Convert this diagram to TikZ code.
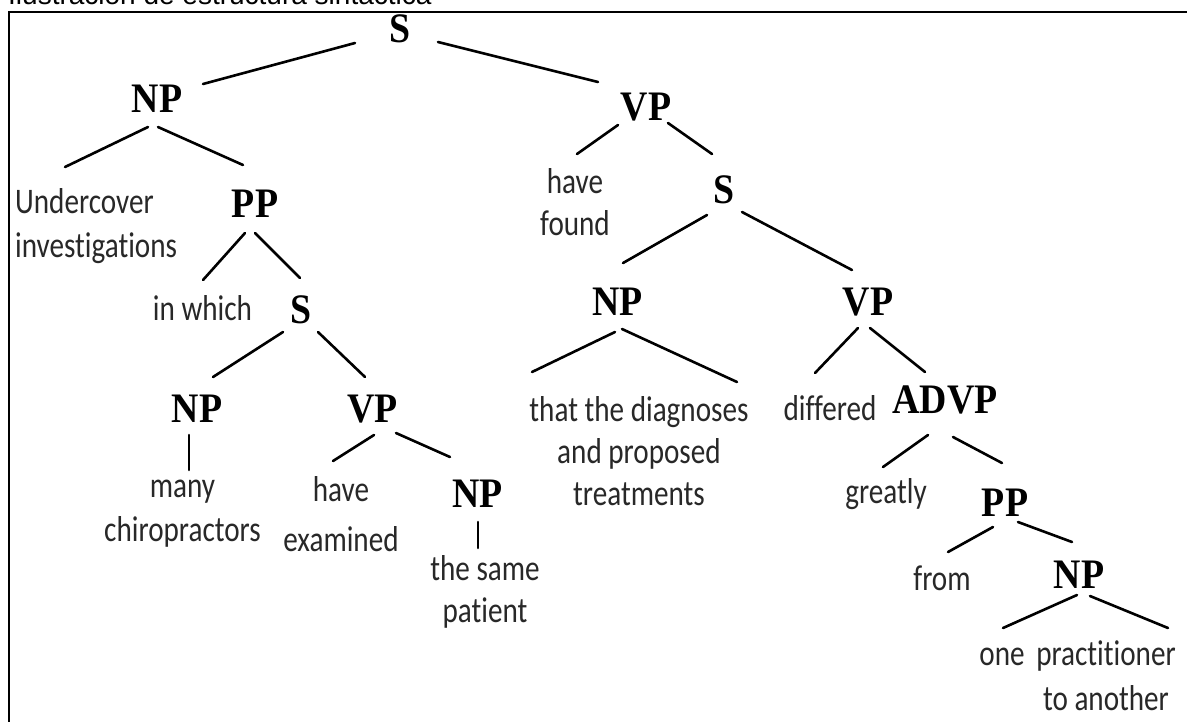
\documentclass[tikz,border=0pt]{standalone}
\usepackage{fontspec}
\newfontfamily\wordfont{Carlito}[FakeStretch=0.81, Ligatures=NoCommon]
\newfontfamily\catfont{Liberation Serif}[FakeStretch=0.9]
\newfontfamily\capfont{Liberation Sans}
\definecolor{wordgray}{RGB}{40,40,40}
% a branch of the tree: start and end are shifted from the named nodes
\newcommand\branch[4]{\draw[edge] ([shift={#2}]#1) -- ([shift={#4}]#3);}
\begin{document}
\begin{tikzpicture}[x=1pt, y=-1pt,
  cat/.style={inner sep=0pt, anchor=center, font=\catfont\bfseries\fontsize{42}{44}\selectfont},
  word/.style={inner sep=0pt, anchor=base, align=center, text=wordgray,
    font=\wordfont\fontsize{36}{44}\selectfont},
  edge/.style={line width=2.6pt, line cap=round}]
\useasboundingbox (0,0) rectangle (1187,721);
\clip (0,0) rectangle (1187,721);
\fill[white] (0,0) rectangle (1187,721);

% caption and frame
\node[anchor=base west, inner sep=0pt, font=\capfont\fontsize{28}{30}\selectfont] (caption) at (8,4.5) {Ilustración de estructura sintáctica};
\draw[line width=2.6pt] (9,740) -- (9,12) -- (1200,12);

% category labels
\node[cat] (S0)   at (400,29)    {S};
\node[cat] (NPa)  at (157,99)    {NP};
\node[cat] (VPa)  at (646,107.5) {VP};
\node[cat] (PPa)  at (255,204)   {PP};
\node[cat] (Sb)   at (301,310)   {S};
\node[cat] (NPb)  at (197,409)   {NP};
\node[cat] (VPb)  at (372.5,409) {VP};
\node[cat] (NPc)  at (477.5,494) {NP};
\node[cat] (Sc)   at (724,190)   {S};
\node[cat] (NPd)  at (617.5,301.5) {NP};
\node[cat] (VPd)  at (868,302)   {VP};
\node[cat] (ADVP) at (945,400)   {ADVP};
\node[cat] (PPe)  at (1005,503)  {PP};
\node[cat] (NPe)  at (1079,575)  {NP};

% words (multi-line nodes sit on the baseline of their last line)
\node[word, anchor=base west, align=left] (undercover) at (15,257) {Undercover\\investigations};
\node[word] (inwhich)      at (202.5,320) {in which};
\node[word, font=\wordfont\fontsize{36}{42}\selectfont] (havefound) at (575,235) {have\\found};
\node[word] (many)         at (182.5,541.7) {many\\chiropractors};
\node[word, font=\wordfont\fontsize{36}{50}\selectfont] (haveexamined) at (341,551.7) {have\\examined};
\node[word, font=\wordfont\fontsize{36}{42}\selectfont] (samepatient) at (485,622) {the same\\patient};
\node[word, font=\wordfont\fontsize{36}{42}\selectfont] (diagnoses) at (639,505) {that the diagnoses\\and proposed\\treatments};
\node[word] (differed)     at (830,420) {differed};
\node[word] (greatly)      at (886,503) {greatly};
\node[word] (from)         at (942,590) {from};
\node[word] (one)          at (1002,665) {one};
\node[word, font=\wordfont\fontsize{36}{45}\selectfont] (practitioner) at (1106,710) {practitioner\\to another};

% branches
\branch{S0.center}{(-45,14)}{NPa.center}{(46,-15)}
\branch{S0.center}{(38,13)}{VPa.center}{(-48,-25.5)}
\branch{NPa.center}{(-9,28)}{undercover.base west}{(50,-90)}
\branch{NPa.center}{(1,28)}{PPa.center}{(-12,-39)}
\branch{PPa.center}{(-10,29)}{inwhich.base}{(0.5,-40)}
\branch{PPa.center}{(0,29)}{Sb.center}{(-1,-32)}
\branch{Sb.center}{(-18,22)}{NPb.center}{(16,-32)}
\branch{Sb.center}{(17,22)}{VPb.center}{(-7.5,-32)}
\branch{NPb.center}{(-8,26)}{many.base}{(6.5,-71.7)}
\branch{VPb.center}{(1.5,26)}{haveexamined.base}{(-8,-90.7)}
\branch{VPb.center}{(23.5,24)}{NPc.center}{(-27.5,-37)}
\branch{NPc.center}{(0.5,28)}{samepatient.base}{(-7,-74)}
\branch{VPa.center}{(-28,17.5)}{havefound.base}{(2,-81)}
\branch{VPa.center}{(22,15.5)}{Sc.center}{(-12,-36)}
\branch{Sc.center}{(-17,25)}{NPd.center}{(5.5,-38.5)}
\branch{Sc.center}{(18,22)}{VPd.center}{(-16,-32)}
\branch{NPd.center}{(-2.5,30.5)}{diagnoses.base}{(-107,-133)}
\branch{NPd.center}{(4.5,27.5)}{diagnoses.base}{(98,-123)}
\branch{VPd.center}{(-10,26)}{differed.base}{(-15,-47)}
\branch{VPd.center}{(2,26)}{ADVP.center}{(-20,-28)}
\branch{ADVP.center}{(-17,35)}{greatly.base}{(-3,-36)}
\branch{ADVP.center}{(8,37)}{PPe.center}{(-3,-40)}
\branch{PPe.center}{(-12,24)}{from.base}{(6,-38)}
\branch{PPe.center}{(13,19)}{NPe.center}{(-7,-33)}
\branch{NPe.center}{(-2,20)}{one.base}{(1,-37)}
\branch{NPe.center}{(11,21)}{practitioner.base}{(62,-82)}
\end{tikzpicture}
\end{document}
